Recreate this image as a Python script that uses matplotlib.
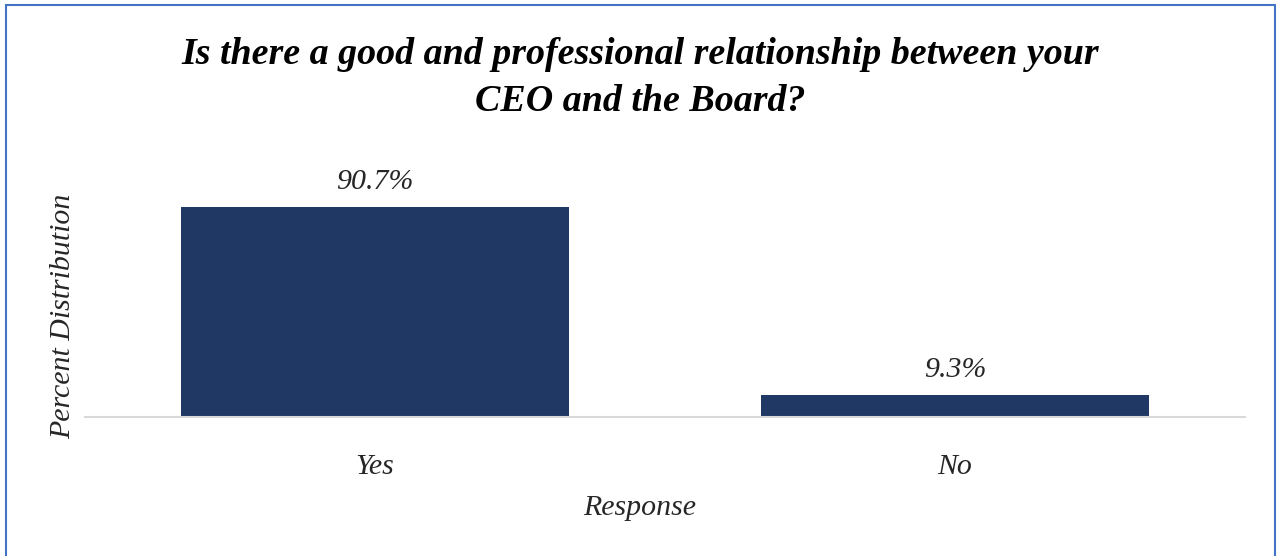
import matplotlib.pyplot as plt
from matplotlib.patches import Rectangle

# Survey responses
responses = ["Yes", "No"]
percent = [90.7, 9.3]
value_labels = ["90.7%", "9.3%"]

title = "Is there a good and professional relationship between your\nCEO and the Board?"

plt.rcParams["font.family"] = ["Liberation Serif", "DejaVu Serif"]

fig = plt.figure(figsize=(12.79, 5.56), dpi=100)
ax = fig.add_axes([85 / 1279, 1 - 417 / 556, 1160 / 1279, 257 / 556])

x = range(len(responses))
ax.bar(x, percent, width=0.67, color="#203864")
ax.set_xlim(-0.5, 1.5)
ax.set_ylim(0, 111)

for xi, v, lab in zip(x, percent, value_labels):
    ax.annotate(lab, (xi, v), xytext=(0, 18), textcoords="offset points",
                ha="center", va="center", fontsize=21.5, style="italic", color="#262626")

ax.set_xticks(list(x))
ax.set_xticklabels(responses, fontsize=21.5, style="italic", color="#262626")
ax.tick_params(axis="x", length=0, pad=27)
ax.set_yticks([])

for s in ["top", "right", "left"]:
    ax.spines[s].set_visible(False)
ax.spines["bottom"].set_color("#D9D9D9")
ax.spines["bottom"].set_linewidth(1.5)

fig.text(640 / 1279, 1 - 508 / 556, "Response", ha="center", va="center",
         fontsize=21.5, style="italic", color="#262626")
fig.text(63 / 1279, 1 - 316 / 556, "Percent Distribution", ha="center", va="center",
         rotation=90, fontsize=21.5, style="italic", color="#262626")
fig.text(640 / 1279, 1 - 78 / 556, title, ha="center", va="center",
         fontsize=27.4, style="italic", weight="bold", color="black", linespacing=1.45)

# outer chart border
fig.patches.append(Rectangle((6 / 1279, -0.01), 1269 / 1279, 1 - 5 / 556 + 0.01,
                             transform=fig.transFigure, fill=False,
                             edgecolor="#4472C4", linewidth=1.5))

fig.savefig("out.png", dpi=100)
